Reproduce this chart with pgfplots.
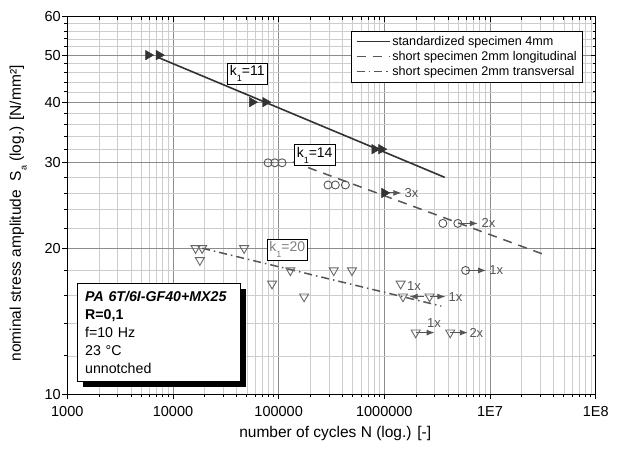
\documentclass[border=0pt]{standalone}
\usepackage{fontspec}
\setmainfont{Liberation Sans}
\usepackage{pgfplots}
\pgfplotsset{compat=1.18}
\usetikzlibrary{arrows.meta}
\definecolor{cA}{HTML}{333333}
\definecolor{cB}{HTML}{555555}
\definecolor{cC}{HTML}{666666}
\definecolor{gmaj}{HTML}{8C8C8C}
\definecolor{gmin}{HTML}{CDCDCD}
\tikzset{rlab/.style={text=cB, font=\fontsize{13}{15}\selectfont, anchor=west, inner sep=0.5pt}}
\tikzset{klab/.style={draw=black, fill=white, line width=0.6pt, inner xsep=2.5pt, inner ysep=2.5pt, font=\fontsize{14}{16}\selectfont}}
\tikzset{runout/.style={cB, line width=1pt, -{Latex[length=8pt,width=6pt]}}}
\begin{document}
\begin{tikzpicture}[x=1pt,y=1pt]
\useasboundingbox (-67.3,-57.7) rectangle (550.7,394.3);
\begin{axis}[
  at={(0pt,0pt)}, anchor=south west, scale only axis, width=528.4pt, height=377.6pt,
  xmode=log, ymode=log, xmin=1000, xmax=100000000, ymin=10, ymax=60,
  xtick={1000,10000,100000,1000000,10000000,100000000},
  minor xtick={2000,3000,4000,5000,6000,7000,8000,9000,
    20000,30000,40000,50000,60000,70000,80000,90000,
    200000,300000,400000,500000,600000,700000,800000,900000,
    2000000,3000000,4000000,5000000,6000000,7000000,8000000,9000000,
    20000000,30000000,40000000,50000000,60000000,70000000,80000000,90000000},
  ytick={10,20,30,40,50,60},
  minor ytick={12,14,16,18,22,24,26,28,32,34,36,38,42,44,46,48,52,54,56,58},
  major tick length=5pt, minor tick length=3pt,
  tick style={black, line width=0.8pt},
  axis line style={line width=1.2pt},
  xtick pos=left, ytick pos=left, tick align=outside,
  grid=both,
  major grid style={draw=gmaj, line width=0.7pt},
  minor grid style={draw=gmin, line width=0.7pt},
  xticklabels={1000,10000,100000,1000000,1E7,1E8},
  yticklabels={10,20,30,40,50,60},
  ticklabel style={font=\fontsize{14.5}{16}\selectfont},
  xticklabel style={yshift=-3.5pt},
  yticklabel style={xshift=2pt},
  xlabel={number of cycles N (log.) [-]},
  ylabel={nominal stress amplitude\ \ S\raisebox{-0.7ex}{\fontsize{9}{10}\selectfont a} (log.) [N/mm²]},
  label style={font=\fontsize{15.5}{17}\selectfont},
  xlabel style={at={(axis description cs:0.507,-0.105)}, anchor=center},
  ylabel style={at={(axis description cs:-0.093,0.479)}, anchor=center},
  legend style={at={(0.976,0.963)}, anchor=north east, draw=black, line width=0.8pt,
    font=\fontsize{12.6}{14}\selectfont, row sep=0.5pt, inner xsep=4pt, inner ysep=3pt,
    cells={anchor=west}},
  legend image code/.code={\draw[#1] (0pt,0pt) -- (33pt,0pt);},
]
% fit lines (legend)
\addplot[cA, line width=1.6pt] coordinates {(7000,49.6) (3720000,28.0)};
\addlegendentry{standardized specimen 4mm}
\addplot[cB, line width=1.5pt, dash pattern=on 9pt off 7pt] coordinates {(137000,30.1) (32700000,19.4)};
\addlegendentry{short specimen 2mm longitudinal}
\addplot[cB, line width=1.5pt, dash pattern=on 8pt off 4pt on 1.5pt off 4pt] coordinates {(18900,20) (3460000,15.2)};
\addlegendentry{short specimen 2mm transversal}

% series 1: standardized specimen
\addplot[only marks, mark=triangle*, mark size=5.5pt, mark options={rotate=-90, fill=cA, draw=cA}, forget plot]
  coordinates {(5830,50)(7360,50)(56100,40)(75000,40)(809000,32)(937000,32)(1000000,26)};

% series 2: longitudinal
\addplot[only marks, mark=o, mark size=4pt, mark options={draw=cB, line width=0.9pt}, forget plot]
  coordinates {(79400,30)(91900,30)(107700,30)(293000,27)(344000,27)(428000,27)
  (3580000,22.5)(4960000,22.5)(5870000,18)};

% series 3: transversal
\addplot[only marks, mark=triangle, mark size=5.2pt, mark options={rotate=180, draw=cC, line width=0.9pt}, forget plot]
  coordinates {(16360,20)(18880,20)(17960,18.9)(47100,20)(86600,16.9)(129000,18)(174000,15.9)
  (332000,18)(494000,18)(1426000,16.9)(1500000,15.9)(2680000,15.9)(1980000,13.4)(4200000,13.4)};

% run-out arrows
\addplot[runout, forget plot] coordinates {(1000000,26)(1450000,26)};
\addplot[runout, forget plot] coordinates {(4960000,22.5)(7670000,22.5)};
\addplot[runout, forget plot] coordinates {(5870000,18)(9200000,18)};
\addplot[runout, forget plot] coordinates {(2350000,15.9)(1730000,15.9)};
\addplot[runout, forget plot] coordinates {(2680000,15.9)(3790000,15.9)};
\addplot[runout, forget plot] coordinates {(1980000,13.4)(2990000,13.4)};
\addplot[runout, forget plot] coordinates {(4200000,13.4)(6170000,13.4)};

\node[rlab] at (axis cs:1530000,26) {3x};
\node[rlab] at (axis cs:8200000,22.5) {2x};
\node[rlab] at (axis cs:9700000,18) {1x};
\node[rlab] at (axis cs:1620000,16.7) {1x};
\node[rlab] at (axis cs:4000000,15.9) {1x};
\node[rlab] at (axis cs:2500000,14.05) {1x};
\node[rlab] at (axis cs:6300000,13.4) {2x};

% slope labels
\node[klab] at (axis cs:50500,45.8) {k\raisebox{-0.8ex}{\fontsize{9}{10}\selectfont 1}=11};
\node[klab] at (axis cs:219000,31.1) {k\raisebox{-0.8ex}{\fontsize{9}{10}\selectfont 1}=14};
\node[klab, text=gray] at (axis cs:120600,19.87) {k\raisebox{-0.8ex}{\fontsize{9}{10}\selectfont 1}=20};

% info box with shadow
\node[anchor=north west, fill=black, inner sep=0pt, minimum width=163pt, minimum height=98pt]
  at ([xshift=6pt,yshift=-6pt]rel axis cs:0.0178,0.294) {};
\node[anchor=north west, draw=black, fill=white, line width=0.8pt,
  inner xsep=8pt, inner ysep=3pt, text width=147pt, minimum height=98pt, align=left,
  font=\fontsize{14.2}{18}\selectfont]
  at (rel axis cs:0.0178,0.294)
  {{\bfseries\itshape PA 6T/6I-GF40+MX25}\\ {\bfseries R=0,1}\\ f=10 Hz\\ 23 °C\\ unnotched};
\end{axis}
\begin{axis}[
  at={(0pt,0pt)}, anchor=south west, scale only axis, width=528.4pt, height=377.6pt,
  xmode=log, ymode=log, xmin=1000, xmax=100000000, ymin=10, ymax=60,
  xtick={1000,10000,100000,1000000,10000000,100000000},
  minor xtick={2000,3000,4000,5000,6000,7000,8000,9000,
    20000,30000,40000,50000,60000,70000,80000,90000,
    200000,300000,400000,500000,600000,700000,800000,900000,
    2000000,3000000,4000000,5000000,6000000,7000000,8000000,9000000,
    20000000,30000000,40000000,50000000,60000000,70000000,80000000,90000000},
  ytick={10,20,30,40,50,60},
  minor ytick={12,14,16,18,22,24,26,28,32,34,36,38,42,44,46,48,52,54,56,58},
  major tick length=5pt, minor tick length=3pt,
  tick style={black, line width=0.8pt},
  xtick pos=right, ytick pos=right, tick align=inside,
  xticklabels={}, yticklabels={}, axis line style={draw=none}]
\end{axis}
\end{tikzpicture}
\end{document}
